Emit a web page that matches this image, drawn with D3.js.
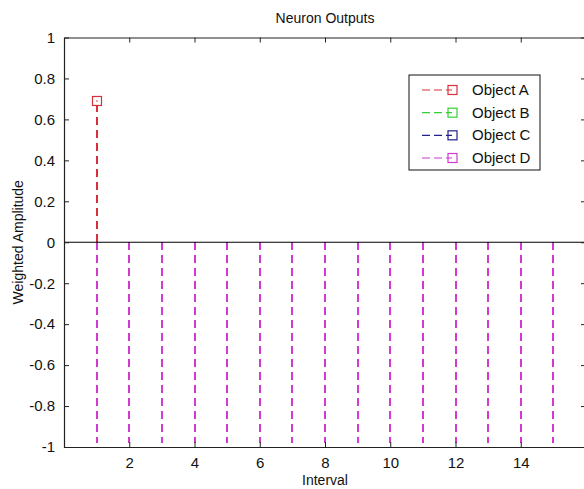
<!DOCTYPE html>
<html>
<head>
<meta charset="utf-8">
<script src="https://cdn.jsdelivr.net/npm/d3@7"></script>
<style>
  body { margin: 0; background: #fff; }
  svg { display: block; font-family: "Liberation Sans", Arial, sans-serif; }
</style>
</head>
<body>
<svg width="584" height="489"></svg>
<script>
// data
var seriesNames = ["Object A", "Object B", "Object C", "Object D"];
var seriesColors = ["#d8303a", "#33d033", "#20208c", "#d03ad0"];
var intervalsA = [1];
var valuesA = [0.69];
var intervalsBCD = [1, 2, 3, 4, 5, 6, 7, 8, 9, 10, 11, 12, 13, 14, 15];
// below the axis limit, only the clipped stem shows
var valuesB = [-1.2, -1.2, -1.2, -1.2, -1.2, -1.2, -1.2, -1.2, -1.2, -1.2, -1.2, -1.2, -1.2, -1.2, -1.2];
var valuesC = [-1.2, -1.2, -1.2, -1.2, -1.2, -1.2, -1.2, -1.2, -1.2, -1.2, -1.2, -1.2, -1.2, -1.2, -1.2];
var valuesD = [-1.2, -1.2, -1.2, -1.2, -1.2, -1.2, -1.2, -1.2, -1.2, -1.2, -1.2, -1.2, -1.2, -1.2, -1.2];
var xTicks = [2, 4, 6, 8, 10, 12, 14];
var yTicks = [-1, -0.8, -0.6, -0.4, -0.2, 0, 0.2, 0.4, 0.6, 0.8, 1];

var series = [
    { x: intervalsA, y: valuesA },
    { x: intervalsBCD, y: valuesB },
    { x: intervalsBCD, y: valuesC },
    { x: intervalsBCD, y: valuesD }
];

var mLeft = 64, mRight = 586, mTop = 37.5, mBottom = 447;

var svg = d3.select("svg");

var x = d3.scaleLinear().domain([0, 16]).range([mLeft, mRight]);
var y = d3.scaleLinear().domain([-1, 1]).range([mBottom, mTop]);

svg.append("clipPath").attr("id", "plotclip")
    .append("rect")
    .attr("x", mLeft).attr("y", mTop + 3)
    .attr("width", mRight - mLeft).attr("height", mBottom - mTop - 7);

var plot = svg.append("g").attr("clip-path", "url(#plotclip)");

// zero baseline
svg.append("line")
    .attr("x1", mLeft).attr("x2", mRight)
    .attr("y1", y(0)).attr("y2", y(0))
    .attr("stroke", "#000").attr("stroke-width", 1.2);

series.forEach(function(s, i) {
    var pts = s.x.map(function(v, j) { return { x: v, y: s.y[j] }; });
    var g = plot.append("g");
    g.selectAll("line")
        .data(pts)
        .enter()
        .append("line")
        .attr("x1", function(d) { return Math.round(x(d.x)); })
        .attr("x2", function(d) { return Math.round(x(d.x)); })
        .attr("y1", y(0))
        .attr("y2", function(d) { return y(d.y); })
        .attr("stroke", seriesColors[i])
        .attr("stroke-width", 2)
        .attr("shape-rendering", "crispEdges")
        .attr("stroke-dasharray", "8,5");
    g.selectAll("rect")
        .data(pts)
        .enter()
        .append("rect")
        .attr("x", function(d) { return Math.round(x(d.x)) - 4.5; })
        .attr("y", function(d) { return y(d.y) - 4.5; })
        .attr("width", 9).attr("height", 9)
        .attr("fill", "#fff")
        .attr("stroke", seriesColors[i])
        .attr("stroke-width", 1.2);
    g.selectAll("circle")
        .data(pts)
        .enter()
        .append("circle")
        .attr("cx", function(d) { return Math.round(x(d.x)); })
        .attr("cy", function(d) { return y(d.y); })
        .attr("r", 0.8)
        .attr("fill", seriesColors[i]);
});

// axes box with inward ticks on all sides
var axisColor = "#222";
svg.append("g")
    .attr("transform", "translate(0," + mBottom + ")")
    .call(d3.axisBottom(x).tickValues(xTicks).tickSizeInner(-5).tickSizeOuter(0).tickPadding(10));
svg.append("g")
    .attr("transform", "translate(0," + mTop + ")")
    .call(d3.axisTop(x).tickValues(xTicks).tickSizeInner(-5).tickSizeOuter(0).tickFormat(""));
svg.append("g")
    .attr("transform", "translate(" + mLeft + ",0)")
    .call(d3.axisLeft(y).tickValues(yTicks).tickSizeInner(-5).tickSizeOuter(0).tickPadding(9)
        .tickFormat(function(d) { return String(+d.toFixed(1)); }));
svg.append("g")
    .attr("transform", "translate(" + mRight + ",0)")
    .call(d3.axisRight(y).tickValues(yTicks).tickSizeInner(-5).tickSizeOuter(0).tickFormat(""));

svg.selectAll(".domain").attr("stroke", axisColor).attr("stroke-width", 1.2);
svg.selectAll(".tick line").attr("stroke", axisColor);
svg.selectAll(".tick text")
    .attr("font-size", 15)
    .attr("font-family", "Liberation Sans, Arial, sans-serif")
    .attr("fill", "#111");

// title and labels
svg.append("text")
    .attr("x", (mLeft + mRight) / 2).attr("y", 23)
    .attr("text-anchor", "middle")
    .attr("font-size", 14)
    .attr("fill", "#111")
    .text("Neuron Outputs");

svg.append("text")
    .attr("x", (mLeft + mRight) / 2).attr("y", 485)
    .attr("text-anchor", "middle")
    .attr("font-size", 14)
    .attr("fill", "#111")
    .text("Interval");

svg.append("text")
    .attr("transform", "translate(23," + y(0) + ") rotate(-90)")
    .attr("text-anchor", "middle")
    .attr("font-size", 14)
    .attr("fill", "#111")
    .text("Weighted Amplitude");

// legend
var legend = svg.append("g");
legend.append("rect")
    .attr("x", 409).attr("y", 75)
    .attr("width", 131).attr("height", 95)
    .attr("fill", "#fff")
    .attr("stroke", "#111")
    .attr("stroke-width", 1);

var ly = d3.scalePoint().domain(seriesNames).range([90, 158]);
seriesNames.forEach(function(name, i) {
    var cy = ly(name);
    legend.append("line")
        .attr("x1", 422).attr("x2", 452)
        .attr("y1", cy).attr("y2", cy)
        .attr("stroke", seriesColors[i])
        .attr("stroke-width", 1.2)
        .attr("stroke-dasharray", "8,4");
    legend.append("rect")
        .attr("x", 448).attr("y", cy - 4.5)
        .attr("width", 9).attr("height", 9)
        .attr("fill", "none")
        .attr("stroke", seriesColors[i])
        .attr("stroke-width", 1.2);
    legend.append("text")
        .attr("x", 472).attr("y", cy + 5)
        .attr("font-size", 15)
        .attr("fill", "#111")
        .text(name);
});
</script>
</body>
</html>
